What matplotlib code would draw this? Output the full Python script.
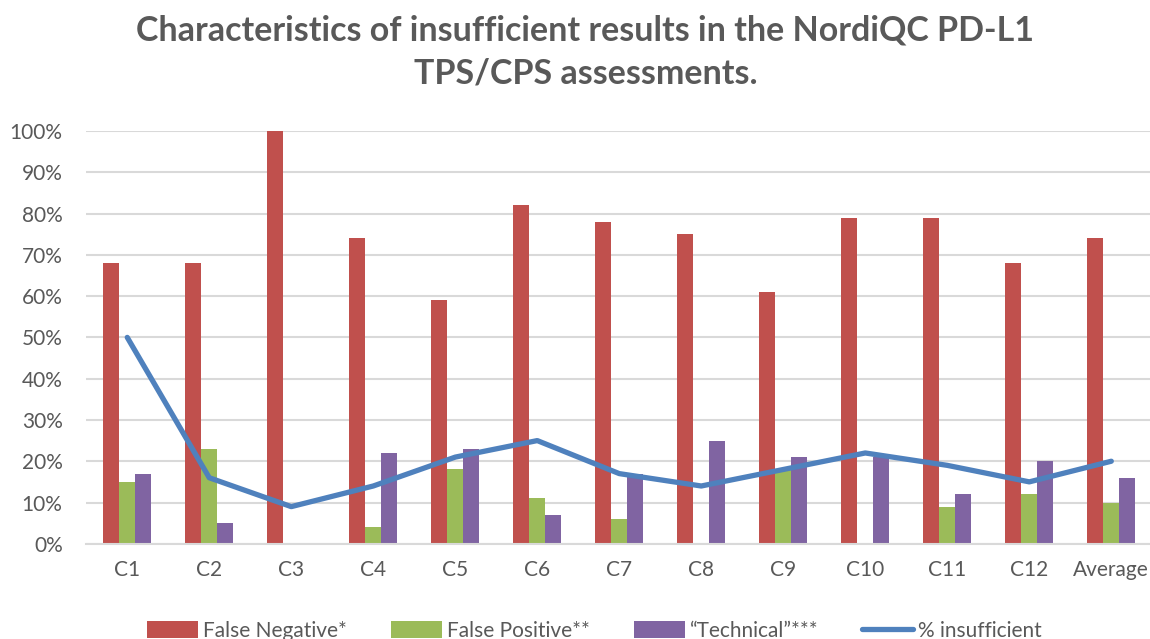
import numpy as np
import matplotlib.pyplot as plt
from matplotlib.ticker import PercentFormatter

categories = ['C1', 'C2', 'C3', 'C4', 'C5', 'C6', 'C7', 'C8', 'C9', 'C10', 'C11', 'C12', 'Average']
false_negative = [68, 68, 100, 74, 59, 82, 78, 75, 61, 79, 79, 68, 74]
false_positive = [15, 23, 0, 4, 18, 11, 6, 0, 18, 0, 9, 12, 10]
technical = [17, 5, 0, 22, 23, 7, 17, 25, 21, 21, 12, 20, 16]
insufficient = [50, 16, 9, 14, 21, 25, 17, 14, 18, 22, 19, 15, 20]

plt.rcParams['font.family'] = ['Lato', 'DejaVu Sans']
grey = '#595959'

fig = plt.figure(figsize=(11.5, 6.39), dpi=100)
ax = fig.add_axes([0.075, 0.149, 0.927, 0.646])

x = np.arange(len(categories))
w = 0.195
bars_fn = ax.bar(x - w, false_negative, w, color='#C0504D', label='False Negative*', zorder=2)
bars_fp = ax.bar(x, false_positive, w, color='#9BBB59', label='False Positive**', zorder=2)
bars_t = ax.bar(x + w, technical, w, color='#8064A2', label='\u201cTechnical\u201d***', zorder=2)
line, = ax.plot(x, insufficient, color='#4F81BD', lw=3.8, solid_joinstyle='round',
                solid_capstyle='round', label='% insufficient', zorder=3)

ax.set_xlim(-0.5, len(categories) - 0.5)
ax.set_ylim(0, 100)
ax.set_yticks(np.arange(0, 101, 10))
ax.yaxis.set_major_formatter(PercentFormatter(decimals=0))
ax.set_xticks(x)
ax.set_xticklabels(categories)
ax.grid(axis='y', color='#d9d9d9', lw=1.5, zorder=0)
for s in ['top', 'right', 'left']:
    ax.spines[s].set_visible(False)
ax.spines['bottom'].set_color('#d9d9d9')
ax.spines['bottom'].set_linewidth(1.5)
ax.tick_params(axis='both', length=0, labelsize=15, colors=grey)
ax.tick_params(axis='y', pad=17)
ax.tick_params(axis='x', pad=12)

fig.suptitle('Characteristics of insufficient results in the NordiQC PD-L1\nTPS/CPS assessments.',
             x=0.509, y=0.977, fontsize=24.5, fontweight='bold', color=grey, linespacing=1.42)

fig.legend([bars_fn, bars_fp, bars_t, line],
           ['False Negative*', 'False Positive**', '\u201cTechnical\u201d***', '% insufficient'],
           loc='center', bbox_to_anchor=(0.517, 0.013), ncol=4, frameon=False,
           fontsize=15, handlelength=2.45, handleheight=0.9, handletextpad=0.25,
           columnspacing=2.1, labelcolor=grey)

fig.savefig('out.png', dpi=100)
